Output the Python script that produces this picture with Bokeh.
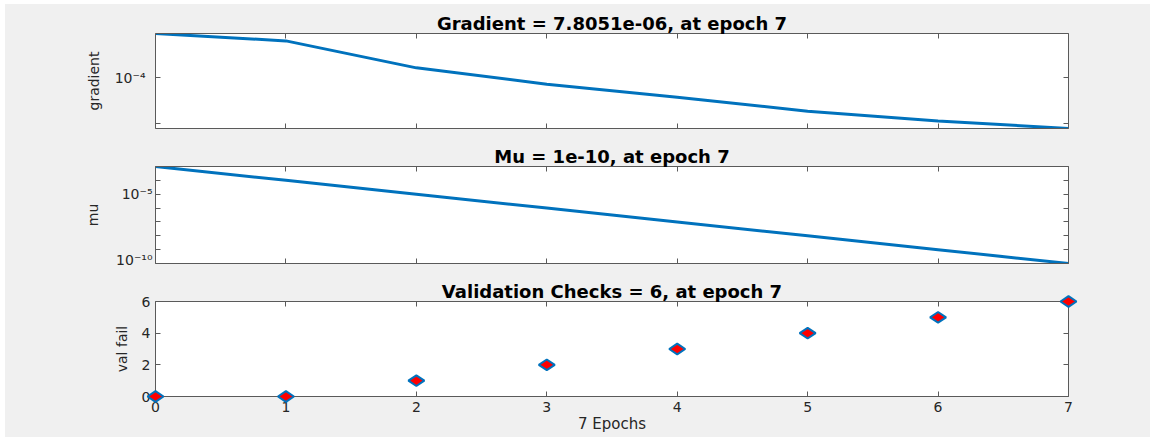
import numpy as np
from bokeh.plotting import figure
from bokeh.layouts import column, row
from bokeh.models import (LinearAxis, LogAxis, FixedTicker, CustomJSTickFormatter,
                          Range1d, Spacer)
from bokeh.embed import file_html
from bokeh.resources import INLINE

# ---------------- data ----------------
epochs = [0, 1, 2, 3, 4, 5, 6, 7]
gradient = [9.03e-4, 6.24e-4, 1.62e-4, 7.15e-5, 3.73e-5, 1.85e-5, 1.14e-5, 7.8051e-6]
mu = [1e-3, 1e-4, 1e-5, 1e-6, 1e-7, 1e-8, 1e-9, 1e-10]
val_fail = [0, 0, 1, 2, 3, 4, 5, 6]

titles = ["Gradient = 7.8051e-06, at epoch 7",
          "Mu = 1e-10, at epoch 7",
          "Validation Checks = 6, at epoch 7"]
y_labels = ["gradient", "mu", "val fail"]
x_label = "7 Epochs"

x_ticks = [0, 1, 2, 3, 4, 5, 6, 7]
grad_ticks = [1e-5, 1e-4]
grad_label_exps = [-4]
grad_label_texts = ["10\u207b\u2074"]
mu_ticks = [1e-10, 1e-9, 1e-8, 1e-7, 1e-6, 1e-5, 1e-4, 1e-3]
mu_label_exps = [-10, -5]
mu_label_texts = ["10\u207b\u00b9\u2070", "10\u207b\u2075"]
val_ticks = [0, 2, 4, 6]

# ---------------- style ----------------
FONT = "DejaVu Sans"
AX = "#5a5a5a"
TXT = "#262626"
BLUE = "#0072BD"
BG = "#f0f0f0"
W = 1145
LEFT = 150
RIGHT = W - LEFT - 913


def log_fmt(exps, texts):
    return CustomJSTickFormatter(
        args=dict(exps=exps, texts=texts),
        code="const e = Math.round(Math.log10(tick)); const i = exps.indexOf(e);"
             "return i >= 0 ? texts[i] : '';")


def style_axis(ax, show_labels):
    ax.axis_line_color = AX
    ax.axis_line_width = 1
    ax.major_tick_line_color = AX
    ax.major_tick_in = 5
    ax.major_tick_out = 0
    ax.minor_tick_line_color = None
    ax.major_label_text_font = FONT
    ax.major_label_text_color = TXT
    ax.axis_label_text_font = FONT
    ax.axis_label_text_font_style = "normal"
    ax.axis_label_text_color = TXT
    if show_labels:
        ax.major_label_text_font_size = "14px"
    else:
        ax.formatter = CustomJSTickFormatter(code="return ''")
        ax.major_label_text_font_size = "1px"
        ax.major_label_standoff = 0


def make_fig(height, top, bottom, y_type, y_range, y_ticker_vals, y_fmt_fn,
             title, ylab, ylab_standoff, ylab_label_standoff, show_x_labels):
    x_range = Range1d(min(epochs), max(epochs))
    p = figure(width=W, height=height, x_range=x_range, y_range=y_range,
               y_axis_type=y_type, output_backend="svg", toolbar_location=None,
               min_border_left=LEFT, min_border_right=RIGHT,
               min_border_top=top, min_border_bottom=bottom, title=title)
    p.border_fill_color = BG
    p.background_fill_color = "white"
    p.outline_line_color = None
    p.xgrid.visible = False
    p.ygrid.visible = False

    p.title.align = "center"
    p.title.text_font = FONT
    p.title.text_font_style = "bold"
    p.title.text_font_size = "18px"
    p.title.text_color = "black"
    p.title.standoff = 0

    xb = p.xaxis[0]
    xb.ticker = FixedTicker(ticks=x_ticks)
    style_axis(xb, show_x_labels)
    if show_x_labels:
        xb.major_label_standoff = 5
        xb.axis_label = x_label
        xb.axis_label_text_font_size = "15px"
        xb.axis_label_standoff = 0

    xt = LinearAxis(ticker=FixedTicker(ticks=x_ticks))
    style_axis(xt, False)
    p.add_layout(xt, "above")

    yl = p.yaxis[0]
    yl.ticker = FixedTicker(ticks=y_ticker_vals)
    style_axis(yl, True)
    yl.formatter = y_fmt_fn()
    yl.major_label_standoff = ylab_label_standoff
    yl.axis_label = ylab
    yl.axis_label_text_font_size = "14px"
    yl.axis_label_standoff = ylab_standoff

    if y_type == "log":
        yr = LogAxis(ticker=FixedTicker(ticks=y_ticker_vals))
    else:
        yr = LinearAxis(ticker=FixedTicker(ticks=y_ticker_vals))
    style_axis(yr, False)
    p.add_layout(yr, "right")
    return p


p1 = make_fig(128, 29, 4, "log", Range1d(min(gradient), max(gradient)), grad_ticks,
              lambda: log_fmt(grad_label_exps, grad_label_texts),
              titles[0], y_labels[0], 10, 10, False)
p1.line(epochs, gradient, line_color=BLUE, line_width=3)

p2 = make_fig(135, 34, 4, "log", Range1d(min(mu), max(mu)), mu_ticks,
              lambda: log_fmt(mu_label_exps, mu_label_texts),
              titles[1], y_labels[1], 12, 3, False)
p2.line(epochs, mu, line_color=BLUE, line_width=3)

p3 = make_fig(170, 34, 41, "linear", Range1d(0, max(val_fail)), val_ticks,
              lambda: CustomJSTickFormatter(code="return String(tick)"),
              titles[2], y_labels[2], 9, 5, True)
p3.scatter(epochs, val_fail, marker="diamond", size=16, angle=np.pi / 2,
           fill_color="#FF0000", line_color=BLUE, line_width=2, level="overlay")

plots = column(p1, p2, p3, spacing=0, styles={"background-color": BG})
layout = row(Spacer(width=5), column(Spacer(height=4), plots, spacing=0), spacing=0)

open("out.html", "w").write(file_html(layout, INLINE))
